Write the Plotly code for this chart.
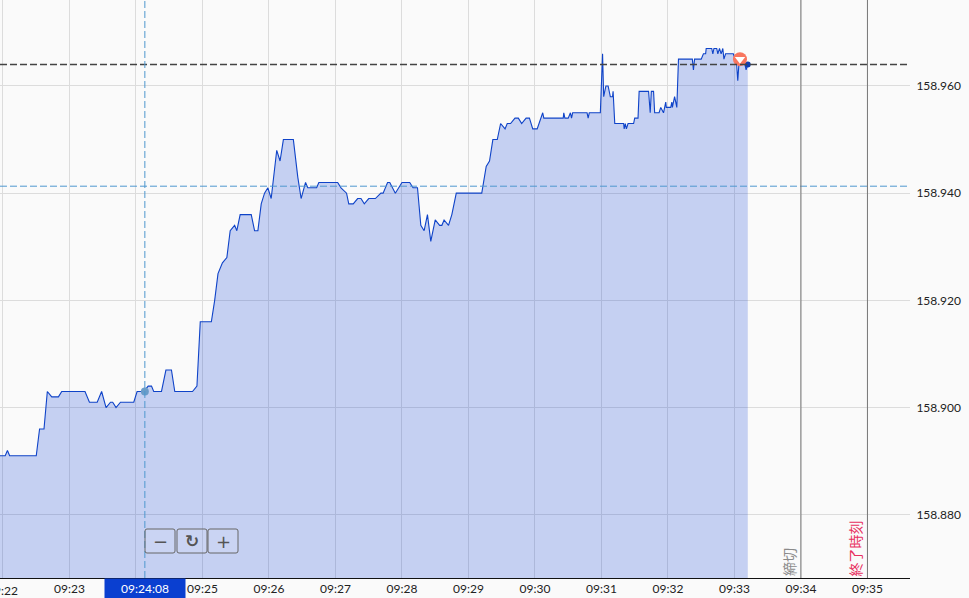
import plotly.graph_objects as go
import pandas as pd

# seconds after 09:22:00
SECONDS = [
    -3, 2, 4, 6, 30, 33, 37, 40, 44, 50, 53, 74, 78, 85, 89, 93, 97, 99, 102, 106,
    118, 121, 127, 131, 134, 136, 143, 147, 152, 155, 171, 175, 178, 188, 191, 194, 198, 202, 205, 209,
    211, 214, 224, 227, 230, 233, 236, 239, 242, 247, 250, 253, 262, 266, 269, 273, 275, 283, 285, 302,
    305, 310, 312, 316, 320, 323, 326, 330, 336, 341, 343, 347, 349, 354, 360, 367, 370, 374, 377, 380,
    383, 386, 390, 394, 396, 398, 402, 405, 409, 432, 436, 439, 442, 446, 449, 453, 455, 458, 462, 465,
    468, 472, 475, 478, 482, 487, 488, 505.5, 506, 507, 510, 512, 513, 514, 515, 527, 528, 529, 539, 541,
    542, 544, 546, 548, 550, 550.5, 552, 560, 560.5, 561.5, 562.5, 564, 569, 570, 573, 574, 582.5, 584, 585, 587,
    588, 592, 593.5, 596, 598, 598.5, 602.5, 603.5, 604, 606, 608, 609.5, 622, 623, 624, 630, 632, 634, 634.5, 639.5,
    640.5, 641.5, 644, 645, 646.5, 648, 649.5, 650.5, 652, 659, 662, 663, 664, 669.5, 670.5, 672,
]
PRICES = [
    158.891, 158.891, 158.892, 158.891, 158.891, 158.896, 158.896, 158.903, 158.902, 158.902,
    158.903, 158.903, 158.901, 158.901, 158.903, 158.900, 158.901, 158.901, 158.900, 158.901,
    158.901, 158.903, 158.903, 158.904, 158.904, 158.903, 158.903, 158.907, 158.907, 158.903,
    158.903, 158.904, 158.916, 158.916, 158.920, 158.925, 158.927, 158.928, 158.933, 158.934,
    158.933, 158.936, 158.936, 158.933, 158.933, 158.938, 158.940, 158.941, 158.939, 158.948,
    158.946, 158.950, 158.950, 158.943, 158.939, 158.942, 158.941, 158.941, 158.942, 158.942,
    158.941, 158.940, 158.938, 158.938, 158.939, 158.939, 158.938, 158.939, 158.939, 158.940,
    158.940, 158.942, 158.942, 158.940, 158.942, 158.942, 158.941, 158.941, 158.934, 158.933,
    158.936, 158.931, 158.935, 158.934, 158.934, 158.935, 158.934, 158.936, 158.940, 158.940,
    158.945, 158.946, 158.950, 158.950, 158.953, 158.952, 158.953, 158.953, 158.954, 158.954,
    158.953, 158.954, 158.954, 158.952, 158.952, 158.955, 158.954, 158.954, 158.955, 158.954,
    158.954, 158.955, 158.954, 158.955, 158.955, 158.955, 158.954, 158.955, 158.955, 158.966,
    158.958, 158.960, 158.960, 158.958, 158.958, 158.959, 158.953, 158.953, 158.952, 158.953,
    158.952, 158.953, 158.953, 158.954, 158.954, 158.959, 158.959, 158.955, 158.959, 158.959,
    158.955, 158.955, 158.956, 158.955, 158.957, 158.956, 158.956, 158.957, 158.956, 158.958,
    158.956, 158.965, 158.965, 158.963, 158.965, 158.965, 158.966, 158.966, 158.967, 158.967,
    158.966, 158.967, 158.967, 158.966, 158.967, 158.966, 158.967, 158.965, 158.966, 158.966,
    158.964, 158.961, 158.964, 158.964, 158.963, 158.964,
]
MINUTE_TICKS = ["09:22", "09:23", "09:24", "09:25", "09:26", "09:27", "09:28",
                "09:29", "09:30", "09:31", "09:32", "09:33", "09:34", "09:35"]
# 09:22 runs off the left edge (drawn as annotation), 09:24 is behind the crosshair label
MINUTE_LABELS = ["", "09:23", "", "09:25", "09:26", "09:27", "09:28",
                 "09:29", "09:30", "09:31", "09:32", "09:33", "09:34", "09:35"]
Y_TICKS = [158.88, 158.90, 158.92, 158.94, 158.96]
LAST_PRICE = 158.964
CROSS_TIME = "09:24:08"
CROSS_PRICE = 158.9413
CROSS_POINT = 158.903
SIGNAL_TIME = "09:33:05"
SIGNAL_PRICE = 158.965

DAY = "2024-01-15 "
WIDTH, HEIGHT = 969, 598
FONT = "Lato"
LINE = "#0f43c8"
CROSS = "#4f97cf"


def px_box(x0, y0, x1, y1, r=2):
    # rounded button outline, pixel coords to paper coords
    plot_w, plot_h = 910, 578
    X = lambda v: v / plot_w
    Y = lambda v: 1 - v / plot_h
    return (f"M{X(x0 + r)},{Y(y0)} L{X(x1 - r)},{Y(y0)} Q{X(x1)},{Y(y0)} {X(x1)},{Y(y0 + r)} "
            f"L{X(x1)},{Y(y1 - r)} Q{X(x1)},{Y(y1)} {X(x1 - r)},{Y(y1)} "
            f"L{X(x0 + r)},{Y(y1)} Q{X(x0)},{Y(y1)} {X(x0)},{Y(y1 - r)} "
            f"L{X(x0)},{Y(y0 + r)} Q{X(x0)},{Y(y0)} {X(x0 + r)},{Y(y0)} Z")


times = pd.Timestamp(DAY + "09:22:00") + pd.to_timedelta(SECONDS, unit="s")
tick_times = [DAY + m + ":00" for m in MINUTE_TICKS]
cutoff_time = DAY + "09:34:00"
close_time = DAY + "09:35:00"

fig = go.Figure()
fig.add_trace(go.Scatter(
    x=times, y=PRICES, mode="lines",
    line=dict(color=LINE, width=1.1),
    fill="tozeroy", fillcolor="rgba(10,60,215,0.22)",
    hoverinfo="skip", showlegend=False,
))
fig.add_trace(go.Scatter(
    x=[DAY + CROSS_TIME], y=[CROSS_POINT], mode="markers",
    marker=dict(color="#6a9cc9", size=8), showlegend=False,
))
fig.add_trace(go.Scatter(
    x=[times[-1]], y=[PRICES[-1]], mode="markers",
    marker=dict(color="#0f3fb0", size=6), showlegend=False,
))
fig.add_trace(go.Scatter(
    x=[DAY + SIGNAL_TIME], y=[SIGNAL_PRICE], mode="markers",
    marker=dict(color="#f8765f", size=14), showlegend=False,
))
fig.add_trace(go.Scatter(
    x=[DAY + SIGNAL_TIME], y=[SIGNAL_PRICE], mode="markers",
    marker=dict(color="white", size=9, symbol="triangle-down"), showlegend=False,
))

fig.add_hline(y=LAST_PRICE, line=dict(color="#444444", width=1.4, dash="7px,3px"))
fig.add_hline(y=CROSS_PRICE, line=dict(color=CROSS, width=1, dash="7px,3px"))
fig.add_vline(x=DAY + CROSS_TIME, line=dict(color=CROSS, width=1, dash="7px,3px"))
fig.add_vline(x=cutoff_time, line=dict(color="#777777", width=1))
fig.add_vline(x=close_time, line=dict(color="#777777", width=1))

# zoom buttons
for box in [(145, 529, 175, 553), (177, 529, 207, 553), (208, 529, 238, 553)]:
    fig.add_shape(type="path", xref="paper", yref="paper", path=px_box(*box),
                  line=dict(color="#666666", width=1), fillcolor="rgba(255,255,255,0.1)")
for label, cx, size in [("−", 160, 18), ("↻", 192, 17), ("+", 223, 18)]:
    fig.add_annotation(xref="paper", yref="paper", x=cx / 910, y=1 - 541 / 578, text=f"<b>{label}</b>" if label == "↻" else label,
                       xanchor="center", yanchor="middle", showarrow=False,
                       font=dict(family="DejaVu Sans", size=size, color="#555555"))

fig.add_annotation(x=cutoff_time, yref="paper", y=0, text="締切", textangle=-90, showarrow=False,
                   xanchor="right", yanchor="bottom", font=dict(family="Noto Sans CJK JP", size=14, color="#8a8a8a"))
fig.add_annotation(x=close_time, yref="paper", y=0, text="終了時刻", textangle=-90, showarrow=False,
                   xanchor="right", yanchor="bottom", font=dict(family="Noto Sans CJK JP", size=14, color="#e8305f"))
# crosshair time label sits on the axis
fig.add_annotation(x=DAY + CROSS_TIME, yref="paper", y=0, yshift=-10, text=CROSS_TIME, showarrow=False,
                   xanchor="center", yanchor="middle",
                   width=78, height=17, bgcolor="#0a3fd0", font=dict(family=FONT, size=12, color="white"))
fig.add_annotation(x=DAY + "09:22:00", yref="paper", y=0, yshift=-12, text="09:22", showarrow=False,
                   xanchor="center", yanchor="middle", font=dict(family=FONT, size=12, color="#222222"))

fig.update_layout(
    width=WIDTH, height=HEIGHT,
    margin=dict(l=0, r=59, t=0, b=20),
    paper_bgcolor="#fafafa", plot_bgcolor="#fafafa",
    font=dict(family=FONT, size=12, color="#222222"),
    xaxis=dict(
        type="date",
        range=[DAY + "09:21:57.3", DAY + "09:35:38.4"],
        tickmode="array", tickvals=tick_times, ticktext=MINUTE_LABELS,
        showgrid=True, gridcolor="#dcdcdc", gridwidth=1, zeroline=False,
        showline=True, linecolor="#111111", linewidth=1, ticks="",
    ),
    yaxis=dict(
        side="right", range=[158.8682, 158.97604],
        tickmode="array", tickvals=Y_TICKS, tickformat=".3f",
        showgrid=True, gridcolor="#dcdcdc", gridwidth=1, zeroline=False,
        showline=False, ticks="outside", ticklen=3, tickcolor="rgba(0,0,0,0)",
    ),
)

# default body margin would push the chart 8px in
fig.write_html("out.html", config={"displayModeBar": False},
               post_script="document.body.style.margin='0';")
